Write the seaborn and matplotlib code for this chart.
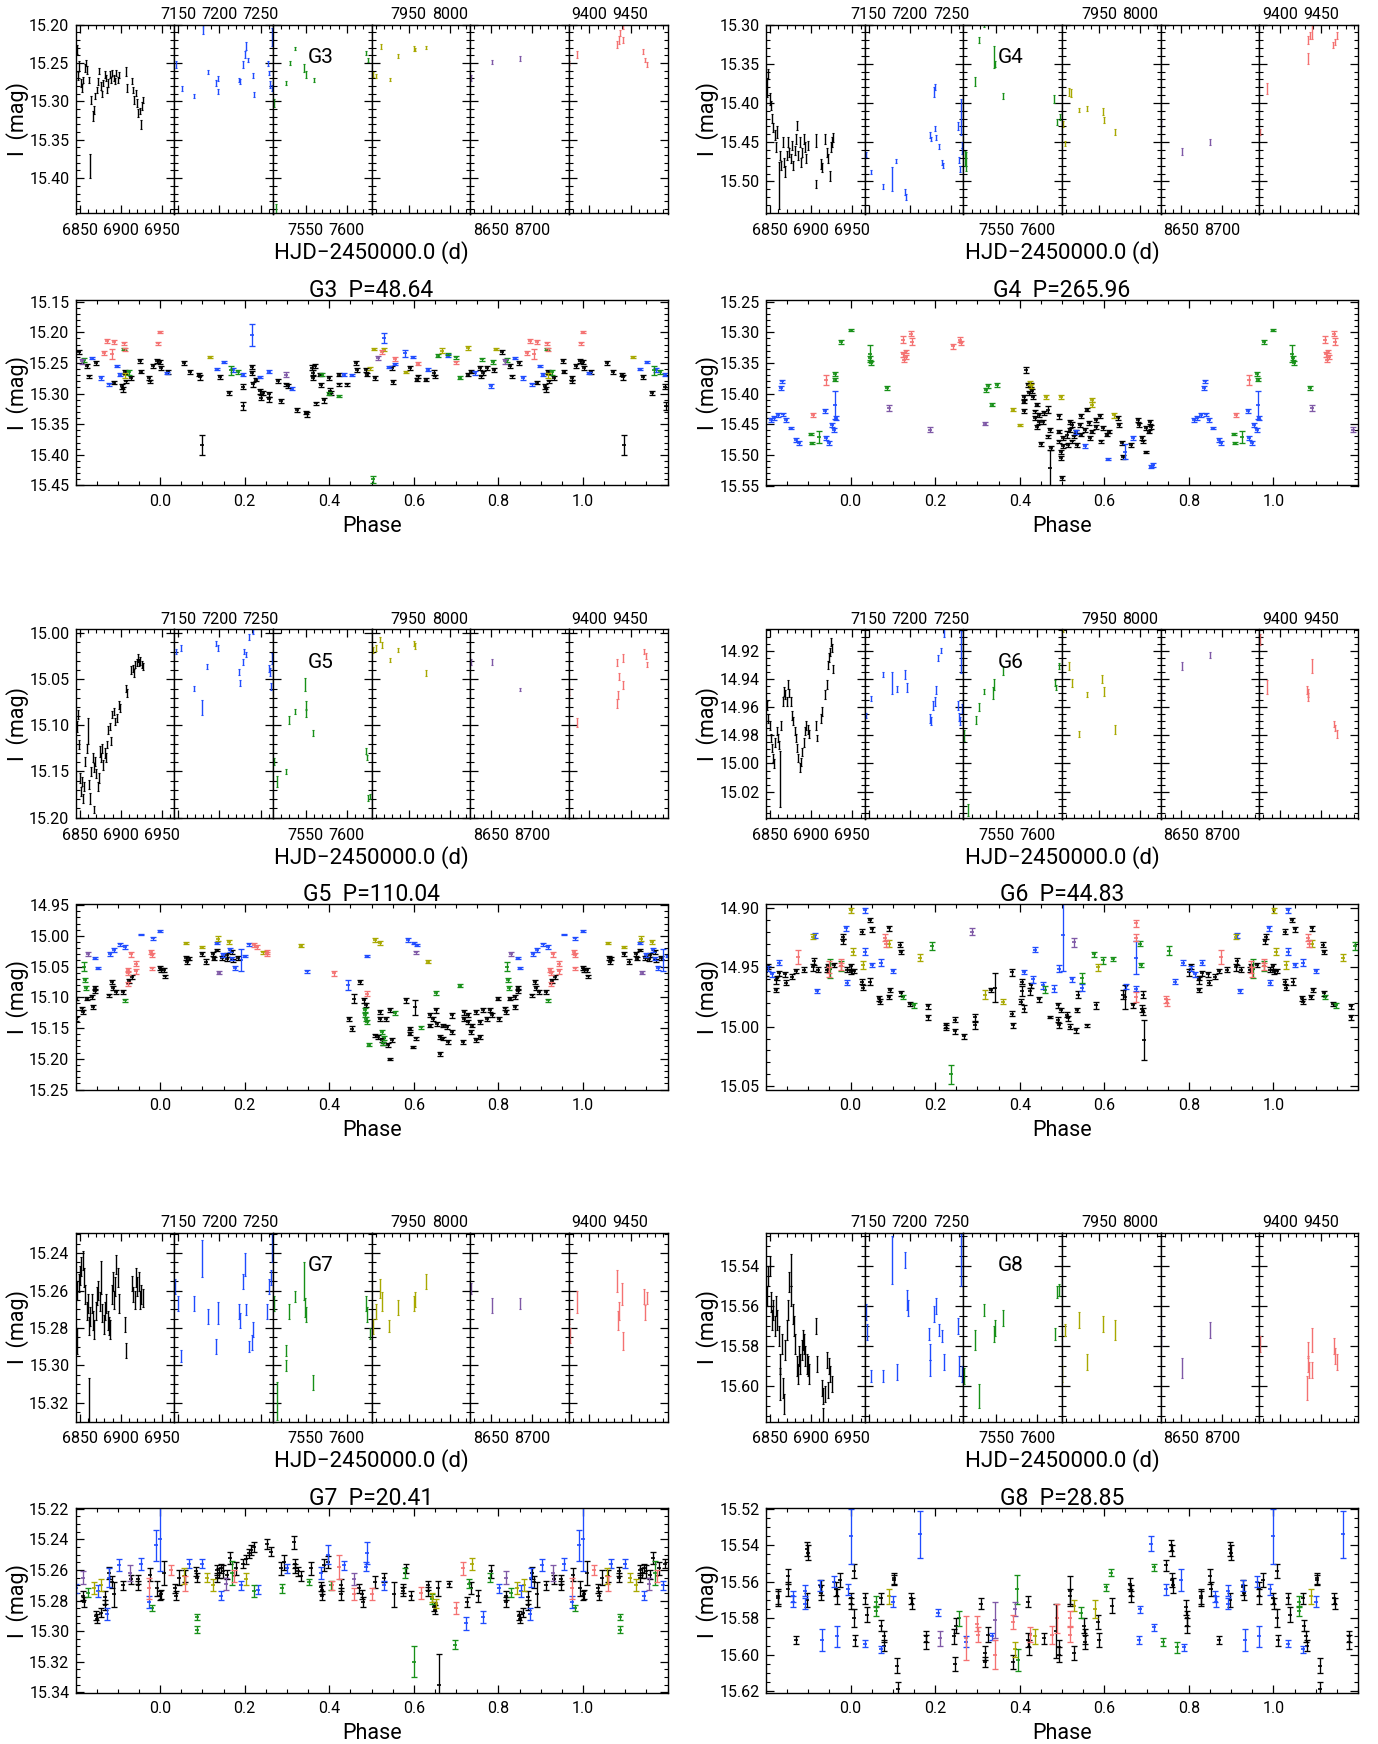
import matplotlib
matplotlib.use("Agg")
import matplotlib.pyplot as plt
from matplotlib.ticker import MultipleLocator, FixedLocator, FormatStrFormatter
import numpy as np
import pandas as pd
import seaborn as sns

# ---------------------------------------------------------------------------
# Light-curve points: (HJD-2450000, I mag, error) per observing season colour
# Phase-folded points: (phase in [0,1), I mag, error)
# ---------------------------------------------------------------------------
G3_LC_BLACK = [(6846.6,15.233,.006),(6847.7,15.267,.005),(6849.3,15.254,.006),(6851.4,15.276,.005),(6853.0,15.283,.005),(6854.6,15.272,.004),(6856.2,15.257,.005),(6857.8,15.250,.004),(6859.4,15.259,.005),(6861.0,15.272,.004),(6862.1,15.384,.016),(6863.7,15.298,.005),(6865.8,15.319,.006),(6867.4,15.311,.005),(6869.0,15.293,.004),(6870.6,15.285,.004),(6872.2,15.274,.005),(6873.8,15.261,.004),(6875.4,15.280,.005),(6877.0,15.291,.004),(6878.6,15.276,.004),(6880.2,15.265,.005),(6881.8,15.270,.004),(6883.4,15.285,.004),(6885.0,15.276,.005),(6886.6,15.265,.004),(6888.2,15.272,.004),(6889.8,15.263,.004),(6891.4,15.270,.004),(6893.0,15.274,.004),(6894.6,15.263,.004),(6896.2,15.272,.004),(6897.8,15.266,.004),(6905.8,15.261,.006),(6907.4,15.283,.005),(6913.3,15.274,.004),(6914.9,15.285,.004),(6916.5,15.298,.005),(6918.1,15.289,.004),(6919.7,15.302,.005),(6921.3,15.315,.005),(6922.9,15.313,.004),(6924.0,15.330,.006),(6925.5,15.306,.005),(6927.1,15.298,.004)]
G3_LC_BLUE = [(7147.6,15.252,.005),(7153.9,15.283,.003),(7169.2,15.293,.003),(7180.3,15.207,.006),(7185.5,15.262,.003),(7196.1,15.276,.004),(7197.6,15.270,.003),(7198.7,15.287,.003),(7223.9,15.272,.003),(7225.5,15.274,.003),(7229.2,15.252,.004),(7230.8,15.239,.004),(7232.4,15.228,.005),(7234.5,15.246,.003),(7240.3,15.266,.003),(7241.8,15.291,.003),(7259.2,15.251,.003),(7260.8,15.263,.003),(7261.8,15.278,.004),(7263.4,15.216,.012),(7264.0,15.283,.004)]
G3_LC_GREEN = [(7511.0,15.302,.005),(7514.2,15.440,.006),(7525.9,15.276,.003),(7530.6,15.250,.003),(7537.0,15.231,.002),(7548.1,15.257,.005),(7549.7,15.265,.004),(7559.7,15.272,.003),(7623.2,15.237,.003),(7625.8,15.246,.003)]
G3_LC_YELLOW = [(7906.6,15.265,.003),(7910.8,15.267,.002),(7916.1,15.229,.003),(7927.1,15.272,.002),(7936.6,15.241,.002),(7956.1,15.231,.003),(7957.6,15.232,.002),(7970.8,15.230,.002)]
G3_LC_PURPLE = [(8625.5,15.270,.004),(8651.5,15.249,.003),(8685.8,15.244,.003)]
G3_LC_RED = [(9375.5,15.250,.003),(9385.0,15.239,.004),(9434.0,15.226,.004),(9435.5,15.220,.005),(9437.1,15.211,.004),(9440.3,15.220,.004),(9441.3,15.203,.003),(9465.5,15.235,.003),(9467.6,15.246,.003),(9469.7,15.252,.003)]

G3_PH_BLACK = [(0.000,15.248,.003),(0.002,15.258,.003),(0.018,15.265,.003),(0.057,15.250,.004),(0.070,15.265,.003),(0.093,15.269,.003),(0.095,15.273,.004),(0.098,15.384,.016),(0.142,15.273,.003),(0.163,15.299,.004),(0.195,15.289,.004),(0.197,15.320,.007),(0.216,15.257,.003),(0.218,15.266,.003),(0.220,15.285,.004),(0.226,15.277,.003),(0.237,15.296,.004),(0.238,15.307,.004),(0.244,15.299,.003),(0.257,15.301,.004),(0.258,15.309,.004),(0.278,15.279,.003),(0.286,15.312,.004),(0.298,15.285,.003),(0.303,15.288,.003),(0.324,15.327,.003),(0.345,15.331,.003),(0.347,15.334,.004),(0.360,15.258,.004),(0.361,15.266,.004),(0.362,15.274,.003),(0.365,15.255,.003),(0.368,15.316,.003),(0.379,15.269,.003),(0.380,15.286,.003),(0.388,15.311,.004),(0.400,15.274,.003),(0.401,15.295,.004),(0.404,15.299,.003),(0.422,15.269,.003),(0.424,15.285,.003),(0.442,15.285,.003),(0.463,15.250,.004),(0.465,15.261,.003),(0.487,15.261,.003),(0.489,15.269,.003),(0.509,15.274,.003),(0.548,15.258,.003),(0.550,15.281,.003),(0.590,15.258,.003),(0.607,15.277,.003),(0.609,15.272,.003),(0.628,15.277,.003),(0.648,15.266,.004),(0.650,15.272,.003),(0.728,15.269,.003),(0.736,15.264,.003),(0.756,15.258,.003),(0.758,15.272,.003),(0.764,15.266,.003),(0.772,15.258,.003),(0.790,15.261,.003),(0.808,15.232,.004),(0.828,15.255,.003),(0.831,15.272,.003),(0.849,15.250,.003),(0.890,15.282,.003),(0.910,15.288,.004),(0.912,15.293,.004),(0.916,15.265,.003),(0.920,15.280,.003),(0.931,15.274,.003),(0.952,15.247,.003),(0.954,15.264,.003),(0.973,15.274,.003),(0.975,15.280,.003),(0.983,15.255,.003),(0.993,15.247,.003)]
G3_PH_BLUE = [(0.015,15.266,.002),(0.134,15.260,.002),(0.151,15.248,.002),(0.173,15.262,.003),(0.195,15.269,.003),(0.216,15.205,.018),(0.235,15.273,.002),(0.257,15.264,.003),(0.311,15.292,.002),(0.434,15.269,.003),(0.453,15.270,.002),(0.530,15.209,.008),(0.540,15.257,.002),(0.556,15.252,.002),(0.579,15.234,.006),(0.597,15.240,.002),(0.633,15.261,.002),(0.681,15.238,.003),(0.745,15.266,.003),(0.782,15.288,.003),(0.838,15.242,.002),(0.859,15.274,.003),(0.880,15.285,.002),(0.898,15.255,.002),(0.905,15.269,.003)]
G3_PH_GREEN = [(0.167,15.262,.007),(0.183,15.265,.003),(0.383,15.269,.003),(0.400,15.300,.003),(0.422,15.304,.002),(0.504,15.440,.006),(0.658,15.238,.002),(0.681,15.235,.002),(0.700,15.241,.002),(0.708,15.274,.002),(0.761,15.244,.002),(0.787,15.248,.003),(0.820,15.245,.003),(0.914,15.227,.002),(0.926,15.265,.004)]
G3_PH_YELLOW = [(0.118,15.240,.002),(0.496,15.259,.002),(0.506,15.227,.002),(0.529,15.228,.002),(0.581,15.265,.002),(0.666,15.230,.004),(0.728,15.226,.003),(0.794,15.227,.002),(0.916,15.270,.004)]
G3_PH_PURPLE = [(0.298,15.269,.004),(0.514,15.242,.003),(0.816,15.247,.004)]
G3_PH_RED = [(0.000,15.199,.002),(0.525,15.232,.004),(0.556,15.244,.003),(0.610,15.251,.003),(0.700,15.249,.003),(0.867,15.234,.003),(0.874,15.214,.003),(0.885,15.235,.008),(0.890,15.216,.003),(0.914,15.218,.003),(0.916,15.228,.003),(0.996,15.218,.003)]

G4_LC_BLACK = [(6846.6,15.380,.012),(6847.7,15.363,.006),(6849.3,15.395,.008),(6850.9,15.403,.006),(6852.5,15.420,.006),(6854.1,15.431,.006),(6855.7,15.441,.006),(6857.3,15.456,.006),(6858.9,15.437,.008),(6860.5,15.505,.030),(6862.1,15.467,.006),(6863.7,15.480,.006),(6865.3,15.450,.006),(6866.9,15.476,.006),(6868.5,15.488,.007),(6870.1,15.467,.006),(6871.7,15.450,.006),(6873.3,15.463,.006),(6874.9,15.471,.006),(6876.5,15.454,.006),(6878.1,15.480,.006),(6879.7,15.461,.006),(6881.3,15.446,.006),(6882.9,15.429,.006),(6884.5,15.467,.006),(6886.1,15.450,.006),(6887.7,15.476,.006),(6889.3,15.463,.006),(6890.9,15.446,.006),(6892.5,15.456,.006),(6894.1,15.471,.006),(6895.7,15.454,.006),(6905.3,15.448,.008),(6906.3,15.503,.005),(6911.7,15.478,.006),(6913.3,15.482,.006),(6917.0,15.446,.006),(6919.2,15.463,.006),(6920.8,15.471,.006),(6922.4,15.493,.006),(6924.0,15.456,.006),(6925.6,15.450,.006),(6926.7,15.444,.006)]
G4_LC_BLUE = [(7146.6,15.466,.003),(7153.0,15.488,.003),(7167.9,15.507,.003),(7178.6,15.497,.015),(7183.4,15.474,.003),(7194.6,15.514,.004),(7195.7,15.520,.004),(7223.9,15.441,.004),(7226.1,15.446,.003),(7229.3,15.386,.006),(7230.3,15.433,.003),(7230.9,15.380,.004),(7231.4,15.444,.003),(7235.7,15.456,.003),(7239.4,15.476,.003),(7240.5,15.480,.003),(7259.1,15.429,.005),(7260.2,15.473,.004),(7260.7,15.484,.004),(7262.3,15.418,.023),(7263.4,15.454,.004),(7263.9,15.461,.004)]
G4_LC_GREEN = [(7511.6,15.471,.010),(7513.7,15.475,.012),(7524.4,15.373,.006),(7528.7,15.320,.004),(7535.1,15.300,.003),(7547.3,15.341,.014),(7548.5,15.350,.004),(7558.0,15.391,.004),(7620.4,15.395,.005),(7623.6,15.424,.004),(7627.3,15.418,.004)]
G4_LC_YELLOW = [(7906.6,15.427,.004),(7908.2,15.452,.003),(7913.0,15.386,.005),(7915.7,15.387,.005),(7925.3,15.409,.003),(7934.9,15.407,.003),(7954.6,15.411,.004),(7955.7,15.422,.004),(7969.0,15.437,.004)]
G4_LC_PURPLE = [(8625.2,15.427,.004),(8650.6,15.462,.005),(8684.7,15.450,.004)]
G4_LC_RED = [(9376.1,15.437,.004),(9384.6,15.382,.007),(9433.7,15.320,.005),(9434.7,15.343,.007),(9436.3,15.314,.004),(9439.0,15.309,.010),(9465.1,15.326,.004),(9467.3,15.322,.004),(9469.4,15.314,.004)]

G4_PH_BLACK = [(0.409,15.405,.003),(0.410,15.413,.003),(0.411,15.428,.003),(0.416,15.361,.005),(0.419,15.386,.003),(0.421,15.399,.003),(0.427,15.386,.003),(0.428,15.396,.003),(0.432,15.405,.003),(0.435,15.429,.003),(0.436,15.440,.003),(0.440,15.418,.003),(0.441,15.454,.003),(0.445,15.435,.003),(0.446,15.446,.003),(0.450,15.482,.003),(0.456,15.446,.003),(0.457,15.432,.003),(0.466,15.426,.006),(0.467,15.470,.003),(0.471,15.459,.003),(0.472,15.522,.030),(0.474,15.489,.003),(0.492,15.437,.004),(0.493,15.462,.003),(0.494,15.478,.003),(0.497,15.495,.003),(0.498,15.505,.003),(0.499,15.538,.003),(0.502,15.473,.003),(0.503,15.486,.003),(0.513,15.467,.006),(0.514,15.484,.003),(0.518,15.446,.003),(0.519,15.459,.003),(0.523,15.451,.004),(0.524,15.478,.003),(0.528,15.470,.003),(0.534,15.462,.003),(0.535,15.484,.003),(0.542,15.451,.003),(0.545,15.437,.003),(0.546,15.467,.003),(0.555,15.459,.003),(0.560,15.426,.003),(0.565,15.448,.003),(0.566,15.473,.003),(0.570,15.462,.003),(0.580,15.443,.003),(0.581,15.454,.003),(0.591,15.437,.003),(0.592,15.478,.003),(0.596,15.456,.003),(0.607,15.467,.003),(0.612,15.462,.003),(0.633,15.440,.003),(0.634,15.451,.003),(0.643,15.481,.003),(0.644,15.503,.003),(0.664,15.484,.003),(0.680,15.443,.003),(0.681,15.451,.003),(0.690,15.473,.003),(0.691,15.478,.003),(0.698,15.495,.002),(0.699,15.456,.003),(0.706,15.462,.003),(0.707,15.446,.003),(0.711,15.454,.003)]
G4_PH_BLUE = [(0.534,15.463,.003),(0.555,15.486,.003),(0.608,15.507,.002),(0.648,15.495,.012),(0.669,15.473,.003),(0.711,15.519,.003),(0.716,15.516,.003),(0.811,15.443,.003),(0.820,15.440,.003),(0.828,15.435,.003),(0.836,15.391,.003),(0.838,15.380,.003),(0.840,15.434,.003),(0.848,15.443,.003),(0.858,15.456,.002),(0.872,15.476,.003),(0.877,15.481,.003),(0.940,15.428,.003),(0.943,15.473,.003),(0.950,15.481,.003),(0.955,15.451,.003),(0.960,15.459,.003),(0.963,15.418,.023),(0.965,15.440,.003)]
G4_PH_GREEN = [(0.000,15.296,.002),(0.045,15.335,.014),(0.047,15.342,.003),(0.048,15.350,.003),(0.086,15.391,.003),(0.320,15.394,.003),(0.325,15.388,.003),(0.335,15.418,.002),(0.347,15.386,.003),(0.906,15.466,.002),(0.908,15.481,.002),(0.925,15.471,.010),(0.962,15.368,.003),(0.963,15.377,.003),(0.977,15.316,.003)]
G4_PH_YELLOW = [(0.383,15.426,.003),(0.401,15.451,.002),(0.425,15.383,.003),(0.427,15.388,.003),(0.461,15.406,.003),(0.498,15.405,.003),(0.570,15.410,.003),(0.572,15.418,.004),(0.622,15.435,.004)]
G4_PH_PURPLE = [(0.092,15.424,.005),(0.187,15.459,.004),(0.318,15.449,.003)]
G4_PH_RED = [(0.123,15.312,.006),(0.125,15.336,.004),(0.126,15.345,.004),(0.130,15.331,.003),(0.132,15.340,.003),(0.144,15.302,.004),(0.146,15.315,.005),(0.242,15.323,.004),(0.258,15.312,.004),(0.260,15.317,.003),(0.912,15.435,.003),(0.943,15.378,.008)]

G5_LC_BLACK = [(6846.1,15.101,.006),(6847.7,15.088,.005),(6849.3,15.121,.005),(6850.9,15.157,.005),(6851.9,15.172,.005),(6853.0,15.161,.005),(6854.1,15.179,.005),(6855.1,15.166,.005),(6856.7,15.139,.005),(6858.3,15.125,.005),(6859.9,15.106,.014),(6861.0,15.164,.005),(6862.1,15.179,.006),(6863.7,15.150,.005),(6865.8,15.135,.005),(6867.4,15.146,.005),(6867.9,15.191,.004),(6869.0,15.139,.005),(6870.1,15.152,.005),(6871.7,15.166,.005),(6873.3,15.157,.005),(6874.3,15.128,.006),(6875.9,15.135,.005),(6877.5,15.125,.005),(6878.6,15.143,.005),(6880.2,15.130,.005),(6881.8,15.135,.005),(6883.4,15.121,.004),(6885.0,15.105,.004),(6886.6,15.101,.004),(6888.2,15.117,.004),(6889.8,15.088,.004),(6891.4,15.085,.004),(6893.5,15.096,.004),(6895.7,15.092,.004),(6897.3,15.078,.004),(6898.9,15.081,.004),(6906.3,15.060,.004),(6907.9,15.065,.004),(6912.7,15.040,.004),(6914.3,15.038,.004),(6915.9,15.043,.004),(6917.5,15.034,.004),(6919.1,15.032,.004),(6920.7,15.027,.004),(6922.3,15.032,.004),(6923.9,15.030,.004),(6925.5,15.034,.004),(6927.1,15.036,.004)]
G5_LC_BLUE = [(7147.6,15.020,.003),(7153.4,15.016,.003),(7168.7,15.060,.003),(7179.2,15.081,.008),(7185.0,15.036,.003),(7196.1,15.011,.003),(7197.6,15.016,.003),(7223.4,15.042,.003),(7224.5,15.054,.003),(7228.2,15.031,.003),(7230.3,15.020,.003),(7232.4,15.023,.003),(7236.1,15.004,.003),(7241.3,14.998,.003),(7259.7,15.038,.004),(7261.3,15.042,.004),(7262.9,15.058,.004),(7263.4,15.027,.006)]
G5_LC_GREEN = [(7511.1,15.139,.004),(7515.3,15.161,.006),(7525.9,15.150,.003),(7530.1,15.094,.004),(7536.5,15.085,.003),(7548.6,15.056,.007),(7549.7,15.078,.004),(7550.2,15.087,.004),(7558.7,15.108,.003),(7622.7,15.128,.003),(7623.8,15.135,.003),(7625.9,15.179,.003),(7628.0,15.177,.003)]
G5_LC_YELLOW = [(7906.6,15.018,.003),(7910.8,15.016,.003),(7915.5,15.007,.003),(7918.2,15.013,.003),(7927.1,15.029,.002),(7936.6,15.018,.002),(7956.1,15.011,.003),(7957.6,15.014,.003),(7970.8,15.043,.003)]
G5_LC_PURPLE = [(8625.5,15.031,.003),(8651.5,15.031,.003),(8685.8,15.061,.002)]
G5_LC_RED = [(9375.5,15.063,.004),(9385.0,15.097,.005),(9433.4,15.032,.004),(9433.9,15.076,.005),(9434.5,15.067,.004),(9435.5,15.047,.004),(9440.3,15.027,.004),(9440.8,15.056,.004),(9466.6,15.020,.003),(9468.7,15.025,.003),(9470.3,15.034,.003)]

G5_PH_BLACK = [(0.000,15.052,.003),(0.002,15.056,.003),(0.010,15.056,.003),(0.012,15.066,.003),(0.062,15.036,.003),(0.064,15.043,.003),(0.067,15.037,.003),(0.098,15.030,.003),(0.108,15.042,.004),(0.126,15.030,.003),(0.128,15.037,.003),(0.134,15.023,.002),(0.147,15.036,.003),(0.157,15.038,.003),(0.158,15.031,.003),(0.170,15.026,.003),(0.172,15.040,.003),(0.185,15.036,.003),(0.447,15.135,.003),(0.453,15.151,.004),(0.458,15.102,.008),(0.473,15.075,.003),(0.481,15.105,.004),(0.487,15.113,.003),(0.509,15.162,.003),(0.514,15.165,.003),(0.519,15.124,.003),(0.520,15.135,.003),(0.525,15.170,.003),(0.526,15.175,.003),(0.533,15.135,.003),(0.538,15.178,.003),(0.543,15.121,.003),(0.544,15.200,.002),(0.548,15.170,.003),(0.581,15.105,.004),(0.590,15.151,.003),(0.591,15.159,.003),(0.597,15.181,.002),(0.602,15.116,.012),(0.604,15.167,.003),(0.638,15.129,.003),(0.639,15.146,.003),(0.646,15.135,.003),(0.653,15.121,.004),(0.654,15.143,.003),(0.661,15.165,.003),(0.662,15.192,.003),(0.669,15.146,.003),(0.670,15.167,.003),(0.679,15.148,.003),(0.680,15.173,.003),(0.689,15.156,.003),(0.690,15.129,.004),(0.715,15.173,.003),(0.718,15.124,.004),(0.719,15.135,.003),(0.727,15.129,.003),(0.728,15.140,.003),(0.736,15.156,.003),(0.737,15.146,.003),(0.746,15.124,.003),(0.747,15.170,.003),(0.756,15.165,.003),(0.757,15.140,.003),(0.764,15.121,.003),(0.772,15.135,.003),(0.779,15.121,.003),(0.785,15.129,.003),(0.800,15.102,.003),(0.802,15.135,.003),(0.816,15.118,.003),(0.817,15.124,.003),(0.828,15.102,.003),(0.839,15.099,.003),(0.840,15.116,.003),(0.846,15.085,.003),(0.847,15.090,.003),(0.880,15.097,.003),(0.887,15.075,.003),(0.888,15.085,.003),(0.895,15.091,.003),(0.913,15.091,.003),(0.926,15.074,.003),(0.933,15.067,.003)]
G5_PH_BLUE = [(0.000,14.992,.002),(0.134,15.012,.002),(0.149,15.031,.003),(0.165,15.023,.003),(0.170,15.037,.003),(0.178,15.052,.003),(0.190,15.039,.018),(0.200,15.033,.002),(0.211,15.014,.002),(0.347,15.058,.002),(0.445,15.080,.008),(0.489,15.033,.002),(0.586,15.007,.003),(0.600,15.012,.002),(0.607,15.015,.002),(0.846,15.036,.002),(0.852,15.052,.002),(0.882,15.029,.003),(0.890,15.023,.003),(0.905,15.014,.002),(0.916,15.018,.003),(0.954,14.998,.001),(0.982,15.004,.002)]
G5_PH_GREEN = [(0.484,15.121,.003),(0.485,15.129,.003),(0.486,15.135,.003),(0.489,15.140,.003),(0.494,15.177,.002),(0.525,15.156,.003),(0.526,15.175,.003),(0.530,15.166,.003),(0.556,15.126,.003),(0.617,15.149,.002),(0.653,15.093,.003),(0.710,15.081,.002),(0.820,15.050,.008),(0.822,15.072,.003),(0.825,15.085,.003),(0.918,15.105,.003)]
G5_PH_YELLOW = [(0.060,15.012,.002),(0.098,15.018,.002),(0.136,15.005,.004),(0.163,15.010,.003),(0.244,15.027,.002),(0.334,15.016,.002),(0.507,15.007,.003),(0.519,15.012,.003),(0.633,15.042,.002)]
G5_PH_PURPLE = [(0.139,15.060,.002),(0.604,15.027,.003),(0.830,15.029,.003)]
G5_PH_RED = [(0.221,15.015,.003),(0.229,15.018,.003),(0.252,15.026,.003),(0.253,15.030,.003),(0.410,15.061,.004),(0.489,15.094,.004),(0.923,15.056,.003),(0.924,15.061,.003),(0.925,15.078,.003),(0.930,15.030,.004),(0.943,15.045,.004),(0.944,15.058,.004),(0.979,15.026,.003),(0.980,15.031,.003),(0.981,15.053,.003)]

G6_LC_BLACK = [(6846.1,14.959,.003),(6847.7,14.968,.003),(6849.3,14.973,.003),(6850.9,14.982,.003),(6851.9,14.989,.003),(6853.5,14.996,.003),(6854.6,15.000,.003),(6856.2,14.985,.003),(6857.8,14.977,.003),(6859.4,14.982,.003),(6861.0,14.987,.003),(6862.1,15.011,.020),(6863.7,14.973,.003),(6865.3,14.956,.003),(6866.9,14.949,.003),(6868.5,14.951,.003),(6870.1,14.956,.003),(6871.7,14.944,.003),(6873.3,14.950,.003),(6874.9,14.956,.003),(6876.5,14.966,.003),(6878.1,14.970,.003),(6879.7,14.977,.003),(6881.3,14.982,.003),(6882.9,14.989,.003),(6884.5,14.996,.003),(6886.1,15.003,.003),(6887.7,14.999,.003),(6889.3,14.992,.003),(6890.9,14.985,.003),(6892.5,14.977,.003),(6894.1,14.973,.003),(6895.7,14.976,.003),(6897.3,14.979,.003),(6905.3,14.973,.003),(6906.9,14.982,.002),(6911.7,14.968,.003),(6913.3,14.963,.003),(6917.0,14.951,.003),(6918.6,14.944,.003),(6920.2,14.930,.003),(6921.8,14.925,.003),(6923.4,14.921,.003),(6924.5,14.914,.003),(6925.5,14.918,.003),(6926.6,14.933,.003)]
G6_LC_BLUE = [(7147.1,14.966,.002),(7153.0,14.954,.002),(7167.9,14.937,.002),(7178.6,14.943,.008),(7183.9,14.947,.002),(7194.6,14.937,.003),(7196.7,14.946,.003),(7223.9,14.968,.003),(7225.5,14.970,.003),(7228.7,14.959,.003),(7230.3,14.956,.003),(7231.9,14.948,.003),(7234.6,14.925,.002),(7238.3,14.920,.002),(7241.0,14.907,.003),(7258.1,14.959,.003),(7259.7,14.967,.003),(7261.3,14.970,.003),(7262.3,14.921,.015),(7263.4,14.961,.003)]
G6_LC_GREEN = [(7511.1,14.980,.004),(7515.3,15.033,.004),(7524.9,14.969,.003),(7528.7,14.960,.003),(7535.1,14.949,.002),(7546.3,14.950,.004),(7547.9,14.944,.004),(7558.0,14.934,.003),(7620.9,14.943,.002),(7622.5,14.946,.002),(7626.8,14.931,.002)]
G6_LC_YELLOW = [(7906.6,14.905,.002),(7913.0,14.931,.003),(7916.7,14.943,.003),(7925.3,14.979,.002),(7935.4,14.951,.002),(7954.1,14.940,.003),(7955.7,14.949,.003),(7969.0,14.976,.003)]
G6_LC_PURPLE = [(8625.0,14.950,.004),(8650.6,14.931,.003),(8684.7,14.923,.002)]
G6_LC_RED = [(9376.1,14.912,.004),(9384.6,14.946,.005),(9432.6,14.948,.003),(9433.7,14.953,.003),(9434.7,14.950,.003),(9439.0,14.931,.005),(9465.7,14.972,.002),(9467.3,14.975,.002),(9469.4,14.979,.003)]

G6_PH_BLACK = [(0.000,14.949,.002),(0.002,14.954,.002),(0.008,14.953,.002),(0.027,14.920,.002),(0.028,14.962,.002),(0.029,14.967,.002),(0.045,14.910,.002),(0.046,14.962,.003),(0.050,14.918,.002),(0.068,14.976,.002),(0.069,14.979,.002),(0.090,14.975,.002),(0.092,14.917,.002),(0.093,14.969,.002),(0.118,14.931,.002),(0.119,14.937,.002),(0.120,14.972,.002),(0.140,14.981,.002),(0.183,14.983,.002),(0.184,14.992,.002),(0.225,14.999,.002),(0.226,15.001,.002),(0.246,14.994,.002),(0.247,15.004,.002),(0.268,15.008,.002),(0.294,14.992,.003),(0.295,14.999,.003),(0.331,14.969,.002),(0.341,14.967,.012),(0.381,14.954,.003),(0.382,14.989,.002),(0.383,14.999,.002),(0.404,14.979,.002),(0.405,14.970,.004),(0.406,14.962,.002),(0.409,14.985,.003),(0.425,14.970,.003),(0.426,14.965,.002),(0.445,14.977,.002),(0.471,14.992,.001),(0.490,14.982,.002),(0.491,14.994,.002),(0.492,14.999,.002),(0.497,14.986,.002),(0.513,14.990,.002),(0.514,14.993,.002),(0.518,15.000,.002),(0.534,15.003,.002),(0.535,14.986,.002),(0.539,14.973,.003),(0.558,14.999,.001),(0.581,14.982,.003),(0.645,14.973,.004),(0.648,14.975,.010),(0.669,14.982,.002),(0.690,14.985,.003),(0.691,14.987,.003),(0.692,14.973,.003),(0.695,15.011,.017),(0.800,14.954,.003),(0.804,14.949,.002),(0.823,14.961,.003),(0.824,14.969,.002),(0.825,14.959,.002),(0.830,14.955,.002),(0.846,14.956,.002),(0.847,14.963,.002),(0.862,14.958,.002),(0.872,14.953,.002),(0.891,14.952,.002),(0.912,14.950,.003),(0.913,14.945,.003),(0.924,14.952,.002),(0.945,14.952,.002),(0.946,14.949,.002),(0.960,14.948,.002),(0.981,14.928,.002),(0.982,14.924,.002),(0.992,14.952,.002)]
G6_PH_BLUE = [(0.034,14.902,.002),(0.035,14.937,.003),(0.050,14.948,.002),(0.071,14.946,.003),(0.100,14.953,.002),(0.411,14.954,.002),(0.432,14.960,.003),(0.435,14.935,.002),(0.456,14.965,.003),(0.480,14.968,.003),(0.492,14.951,.003),(0.503,14.923,.030),(0.523,14.960,.002),(0.547,14.967,.003),(0.651,14.966,.002),(0.674,14.968,.002),(0.676,14.942,.014),(0.768,14.962,.002),(0.787,14.946,.002),(0.805,14.951,.002),(0.815,14.956,.002),(0.830,14.946,.002),(0.915,14.923,.002),(0.920,14.970,.002),(0.990,14.917,.002),(0.991,14.963,.002)]
G6_PH_GREEN = [(0.123,14.975,.002),(0.149,14.982,.002),(0.192,14.932,.003),(0.237,15.040,.008),(0.459,14.969,.003),(0.547,14.959,.004),(0.575,14.939,.002),(0.596,14.944,.003),(0.620,14.943,.002),(0.685,14.930,.002),(0.686,14.948,.002),(0.752,14.936,.004),(0.951,14.951,.008),(0.977,14.949,.004)]
G6_PH_YELLOW = [(0.001,14.902,.002),(0.006,14.937,.003),(0.030,14.948,.003),(0.092,14.930,.003),(0.164,14.942,.003),(0.318,14.973,.004),(0.360,14.979,.002),(0.584,14.950,.003),(0.912,14.924,.002)]
G6_PH_PURPLE = [(0.287,14.920,.003),(0.529,14.929,.004)]
G6_PH_RED = [(0.081,14.925,.003),(0.083,14.930,.003),(0.674,14.913,.003),(0.675,14.925,.003),(0.676,14.975,.004),(0.747,14.977,.003),(0.748,14.980,.003),(0.875,14.941,.006),(0.948,14.950,.005),(0.949,14.954,.004),(0.977,14.946,.003),(0.978,14.949,.003)]

G7_LC_BLACK = [(6846.1,15.287,.007),(6847.1,15.260,.005),(6848.7,15.256,.005),(6850.3,15.252,.005),(6851.9,15.247,.005),(6853.5,15.244,.005),(6855.1,15.253,.005),(6856.7,15.262,.005),(6858.3,15.271,.005),(6859.9,15.267,.005),(6861.0,15.279,.005),(6861.5,15.322,.015),(6863.1,15.274,.005),(6864.7,15.267,.005),(6866.3,15.276,.005),(6867.9,15.281,.005),(6869.5,15.271,.005),(6871.1,15.263,.005),(6872.7,15.260,.005),(6874.3,15.266,.005),(6875.9,15.253,.009),(6877.5,15.272,.005),(6879.1,15.278,.005),(6880.7,15.271,.005),(6882.3,15.267,.005),(6883.9,15.276,.005),(6885.5,15.279,.005),(6887.1,15.281,.005),(6888.7,15.262,.005),(6890.3,15.255,.005),(6891.9,15.265,.005),(6893.5,15.258,.005),(6894.6,15.246,.005),(6896.2,15.253,.005),(6897.8,15.267,.005),(6905.3,15.278,.004),(6906.9,15.292,.004),(6913.3,15.256,.004),(6914.9,15.262,.004),(6917.0,15.265,.005),(6918.6,15.253,.005),(6920.2,15.258,.005),(6921.8,15.255,.005),(6923.4,15.265,.005),(6925.0,15.262,.005),(6926.6,15.264,.005)]
G7_LC_BLUE = [(7146.0,15.258,.004),(7149.2,15.267,.004),(7153.4,15.295,.003),(7168.7,15.267,.004),(7179.2,15.243,.010),(7185.5,15.274,.004),(7196.1,15.290,.004),(7197.6,15.272,.006),(7223.9,15.271,.004),(7225.5,15.276,.004),(7229.2,15.255,.004),(7230.8,15.246,.006),(7232.4,15.270,.003),(7236.1,15.290,.003),(7239.7,15.288,.004),(7241.3,15.281,.004),(7258.2,15.271,.004),(7260.8,15.258,.004),(7262.4,15.253,.004),(7263.4,15.235,.010)]
G7_LC_GREEN = [(7511.1,15.267,.004),(7515.3,15.319,.010),(7525.3,15.292,.003),(7525.8,15.300,.003),(7529.6,15.271,.004),(7536.5,15.263,.003),(7548.1,15.255,.010),(7549.2,15.269,.005),(7549.7,15.273,.004),(7558.7,15.309,.004),(7623.2,15.267,.004),(7624.8,15.273,.004),(7627.5,15.283,.003)]
G7_LC_YELLOW = [(7906.6,15.279,.004),(7910.8,15.271,.004),(7915.0,15.259,.005),(7917.1,15.266,.005),(7926.6,15.279,.003),(7936.6,15.269,.004),(7956.6,15.267,.004),(7957.6,15.265,.004),(7970.8,15.255,.004)]
G7_LC_PURPLE = [(8625.5,15.259,.003),(8651.5,15.268,.004),(8685.8,15.267,.003)]
G7_LC_RED = [(9375.5,15.274,.004),(9376.0,15.284,.004),(9385.0,15.266,.006),(9433.4,15.255,.006),(9434.5,15.276,.005),(9435.5,15.271,.005),(9439.7,15.262,.006),(9440.3,15.287,.005),(9466.6,15.263,.004),(9467.6,15.272,.004),(9469.7,15.264,.003)]

G7_PH_BLACK = [(0.000,15.277,.003),(0.002,15.276,.003),(0.010,15.262,.008),(0.036,15.272,.003),(0.038,15.277,.003),(0.044,15.265,.005),(0.059,15.264,.004),(0.085,15.261,.003),(0.086,15.265,.003),(0.134,15.260,.003),(0.135,15.265,.003),(0.139,15.262,.003),(0.144,15.259,.003),(0.149,15.261,.004),(0.159,15.263,.003),(0.165,15.252,.004),(0.180,15.259,.004),(0.195,15.256,.003),(0.203,15.253,.003),(0.209,15.249,.003),(0.214,15.247,.003),(0.221,15.245,.003),(0.252,15.243,.003),(0.262,15.248,.003),(0.285,15.259,.004),(0.293,15.255,.005),(0.317,15.242,.004),(0.318,15.256,.003),(0.319,15.259,.003),(0.327,15.261,.003),(0.334,15.264,.003),(0.357,15.259,.004),(0.381,15.271,.003),(0.382,15.273,.003),(0.383,15.277,.003),(0.388,15.257,.004),(0.398,15.255,.004),(0.427,15.270,.004),(0.428,15.276,.004),(0.470,15.272,.003),(0.478,15.276,.003),(0.479,15.281,.003),(0.507,15.268,.004),(0.530,15.265,.003),(0.552,15.276,.008),(0.574,15.272,.003),(0.575,15.274,.003),(0.581,15.259,.003),(0.594,15.277,.003),(0.633,15.274,.003),(0.634,15.270,.003),(0.648,15.284,.003),(0.649,15.286,.003),(0.658,15.272,.005),(0.660,15.335,.020),(0.682,15.269,.002),(0.725,15.281,.003),(0.736,15.272,.004),(0.751,15.277,.004),(0.782,15.261,.004),(0.818,15.277,.003),(0.819,15.281,.003),(0.849,15.290,.003),(0.850,15.292,.003),(0.859,15.288,.003),(0.869,15.283,.003),(0.870,15.278,.004),(0.880,15.262,.004),(0.885,15.268,.004),(0.890,15.276,.008),(0.913,15.270,.003),(0.931,15.266,.003),(0.947,15.270,.003),(0.948,15.266,.003),(0.977,15.263,.004),(0.993,15.272,.005)]
G7_PH_BLUE = [(0.067,15.256,.003),(0.100,15.256,.003),(0.144,15.277,.003),(0.190,15.270,.003),(0.231,15.273,.003),(0.301,15.259,.003),(0.381,15.262,.004),(0.396,15.250,.006),(0.434,15.257,.003),(0.487,15.258,.003),(0.490,15.249,.007),(0.530,15.270,.003),(0.723,15.295,.004),(0.763,15.291,.004),(0.802,15.272,.003),(0.854,15.274,.004),(0.874,15.289,.004),(0.878,15.265,.006),(0.902,15.257,.004),(0.954,15.256,.004),(0.974,15.281,.004),(0.990,15.244,.010),(0.999,15.240,.021)]
G7_PH_GREEN = [(0.087,15.291,.002),(0.088,15.299,.002),(0.170,15.262,.008),(0.221,15.274,.004),(0.288,15.272,.003),(0.353,15.268,.002),(0.404,15.270,.003),(0.578,15.262,.003),(0.600,15.320,.010),(0.643,15.279,.003),(0.698,15.309,.003),(0.730,15.269,.003),(0.780,15.265,.003),(0.830,15.275,.003),(0.980,15.285,.002)]
G7_PH_YELLOW = [(0.057,15.264,.005),(0.110,15.265,.003),(0.126,15.270,.004),(0.203,15.266,.004),(0.643,15.278,.003),(0.653,15.282,.003),(0.738,15.256,.004),(0.844,15.272,.004),(0.860,15.270,.004)]
G7_PH_PURPLE = [(0.156,15.269,.004),(0.458,15.266,.004),(0.818,15.265,.004),(0.928,15.262,.005)]
G7_PH_RED = [(0.026,15.260,.003),(0.059,15.269,.005),(0.175,15.264,.004),(0.406,15.270,.003),(0.422,15.258,.008),(0.458,15.276,.004),(0.501,15.276,.004),(0.617,15.275,.004),(0.700,15.285,.004),(0.717,15.259,.004),(0.974,15.272,.007)]

G8_LC_BLACK = [(6846.1,15.555,.005),(6847.7,15.545,.005),(6849.3,15.540,.005),(6850.9,15.558,.005),(6852.5,15.567,.005),(6854.1,15.562,.005),(6855.7,15.570,.005),(6857.3,15.560,.005),(6858.9,15.567,.005),(6860.5,15.575,.005),(6861.5,15.589,.005),(6862.6,15.599,.008),(6864.2,15.579,.005),(6865.8,15.601,.005),(6866.9,15.609,.005),(6868.5,15.582,.005),(6870.1,15.572,.005),(6871.7,15.562,.005),(6873.3,15.548,.005),(6874.9,15.542,.008),(6875.9,15.555,.005),(6877.5,15.564,.005),(6879.1,15.570,.005),(6880.7,15.579,.005),(6882.3,15.590,.005),(6883.4,15.594,.005),(6885.0,15.585,.005),(6886.6,15.589,.005),(6888.2,15.582,.005),(6889.8,15.577,.005),(6891.4,15.579,.005),(6893.0,15.585,.005),(6894.6,15.589,.005),(6896.2,15.590,.005),(6897.8,15.594,.005),(6905.3,15.570,.004),(6906.9,15.589,.004),(6913.3,15.601,.004),(6913.8,15.615,.004),(6914.9,15.605,.004),(6917.0,15.604,.004),(6918.6,15.587,.004),(6920.2,15.602,.004),(6921.8,15.590,.004),(6923.4,15.594,.004),(6925.0,15.599,.004)]
G8_LC_BLUE = [(7146.1,15.563,.004),(7147.7,15.573,.004),(7153.0,15.595,.003),(7167.9,15.595,.003),(7178.6,15.537,.012),(7183.9,15.593,.004),(7194.6,15.537,.004),(7196.7,15.557,.005),(7197.8,15.561,.004),(7223.4,15.574,.003),(7223.9,15.591,.004),(7225.0,15.583,.004),(7229.3,15.564,.004),(7231.4,15.560,.004),(7235.7,15.572,.003),(7239.4,15.575,.003),(7241.0,15.588,.004),(7258.1,15.570,.004),(7259.7,15.590,.005),(7262.3,15.537,.013),(7263.4,15.594,.004)]
G8_LC_GREEN = [(7511.1,15.595,.004),(7524.4,15.577,.005),(7528.7,15.605,.006),(7535.1,15.562,.003),(7547.3,15.574,.004),(7548.4,15.571,.004),(7558.0,15.566,.004),(7620.9,15.574,.003),(7623.6,15.553,.003),(7626.3,15.552,.003)]
G8_LC_YELLOW = [(7905.4,15.594,.004),(7908.7,15.572,.003),(7925.3,15.567,.004),(7934.9,15.588,.004),(7954.6,15.569,.004),(7969.0,15.572,.005)]
G8_LC_PURPLE = [(8625.2,15.576,.004),(8650.6,15.591,.005),(8684.7,15.572,.004)]
G8_LC_RED = [(9376.1,15.579,.004),(9432.6,15.601,.006),(9433.7,15.582,.004),(9434.7,15.589,.004),(9435.3,15.592,.004),(9439.0,15.577,.006),(9439.5,15.592,.004),(9465.7,15.580,.004),(9467.3,15.585,.004),(9469.4,15.588,.004)]

G8_PH_BLACK = [(0.000,15.569,.003),(0.001,15.572,.003),(0.008,15.580,.005),(0.009,15.554,.004),(0.010,15.592,.003),(0.034,15.569,.003),(0.040,15.578,.004),(0.071,15.569,.003),(0.072,15.584,.003),(0.078,15.590,.003),(0.079,15.595,.003),(0.102,15.558,.003),(0.103,15.559,.003),(0.110,15.606,.004),(0.111,15.619,.004),(0.144,15.569,.003),(0.145,15.572,.003),(0.178,15.590,.003),(0.179,15.593,.004),(0.245,15.590,.004),(0.246,15.605,.004),(0.250,15.584,.004),(0.308,15.572,.003),(0.317,15.604,.003),(0.318,15.599,.004),(0.324,15.589,.004),(0.385,15.604,.004),(0.419,15.571,.003),(0.420,15.592,.004),(0.421,15.596,.004),(0.458,15.591,.003),(0.485,15.587,.015),(0.492,15.596,.004),(0.493,15.600,.004),(0.518,15.568,.004),(0.519,15.565,.008),(0.528,15.599,.004),(0.553,15.584,.004),(0.554,15.590,.004),(0.555,15.593,.004),(0.586,15.582,.004),(0.587,15.592,.004),(0.619,15.573,.004),(0.661,15.561,.003),(0.662,15.565,.003),(0.663,15.568,.003),(0.747,15.551,.003),(0.758,15.540,.003),(0.759,15.543,.003),(0.761,15.559,.004),(0.762,15.562,.004),(0.794,15.574,.004),(0.795,15.580,.004),(0.796,15.584,.004),(0.828,15.568,.004),(0.829,15.569,.004),(0.851,15.557,.004),(0.852,15.564,.004),(0.872,15.592,.002),(0.897,15.570,.004),(0.898,15.542,.004),(0.899,15.544,.004),(0.929,15.563,.004),(0.930,15.566,.004),(0.966,15.564,.004),(0.967,15.568,.004),(0.976,15.559,.004)]
G8_PH_BLUE = [(0.000,15.535,.015),(0.034,15.594,.002),(0.071,15.597,.002),(0.100,15.571,.003),(0.164,15.534,.013),(0.206,15.577,.002),(0.274,15.593,.003),(0.334,15.590,.002),(0.683,15.592,.002),(0.685,15.575,.002),(0.711,15.539,.004),(0.718,15.585,.002),(0.747,15.564,.003),(0.781,15.559,.006),(0.789,15.596,.002),(0.863,15.568,.003),(0.864,15.571,.003),(0.892,15.565,.003),(0.893,15.572,.003),(0.927,15.562,.003),(0.933,15.592,.006),(0.960,15.560,.003),(0.967,15.590,.006),(0.993,15.564,.003)]
G8_PH_GREEN = [(0.060,15.571,.003),(0.061,15.576,.003),(0.256,15.580,.004),(0.393,15.564,.008),(0.395,15.603,.006),(0.544,15.577,.003),(0.604,15.563,.002),(0.617,15.555,.002),(0.718,15.552,.002),(0.739,15.593,.002),(0.773,15.596,.003)]
G8_PH_YELLOW = [(0.090,15.568,.004),(0.388,15.597,.004),(0.435,15.590,.004),(0.528,15.573,.003),(0.579,15.575,.005)]
G8_PH_PURPLE = [(0.211,15.591,.004),(0.341,15.581,.010),(0.388,15.575,.004)]
G8_PH_RED = [(0.274,15.591,.012),(0.300,15.583,.004),(0.301,15.589,.004),(0.341,15.600,.008),(0.383,15.582,.004),(0.425,15.589,.004),(0.476,15.589,.005),(0.489,15.580,.008),(0.518,15.580,.004),(0.519,15.589,.004)]

GROUPS = ["G3", "G4", "G5", "G6", "G7", "G8"]
PERIODS = [48.64, 265.96, 110.04, 44.83, 20.41, 28.85]
SEASONS = [(6845, 6965), (7145, 7265), (7510, 7630), (7905, 8025), (8625, 8745), (9375, 9495)]
LC_YRANGE = [(15.446, 15.200), (15.541, 15.300), (15.201, 14.996), (15.039, 14.905), (15.330, 15.229), (15.618, 15.523)]
PH_YRANGE = [(15.450, 15.148), (15.550, 15.248), (15.250, 14.949), (15.053, 14.897), (15.3405, 15.2195), (15.621, 15.5195)]
LC_YSTEP = [0.05, 0.05, 0.05, 0.02, 0.02, 0.02]
PH_YSTEP = [0.05, 0.05, 0.05, 0.05, 0.02, 0.02]
SERIES = ["black", "blue", "green", "yellow", "purple", "red"]
COLORS = {"black": "#000000", "blue": "#1f4cff", "green": "#179018",
          "yellow": "#a8a800", "purple": "#7e58a6", "red": "#f47272"}

# ---------------------------------------------------------------------------
# Tidy table of all points
# ---------------------------------------------------------------------------
records = []
for g in GROUPS:
    for kind in ("LC", "PH"):
        for s in SERIES:
            for x, m, e in globals()[f"{g}_{kind}_{s.upper()}"]:
                records.append((g, kind, s, x, m, e))
df = pd.DataFrame(records, columns=["group", "kind", "series", "x", "mag", "err"])

# phase points repeated over -0.2 .. 1.2
ph = df[df.kind == "PH"]
reps = []
for shift in (-1.0, 0.0, 1.0):
    r = ph.copy()
    r["x"] = r["x"] + shift
    reps.append(r)
phx = pd.concat(reps, ignore_index=True)
phx = phx[(phx.x >= -0.2) & (phx.x <= 1.2)]

# ---------------------------------------------------------------------------
# Style
# ---------------------------------------------------------------------------
sns.set_theme(style="ticks", rc={
    "axes.edgecolor": "black", "axes.linewidth": 1.0,
    "xtick.color": "black", "ytick.color": "black",
    "text.color": "black", "axes.labelcolor": "black",
})
plt.rcParams["font.family"] = ["Roboto", "DejaVu Sans"]
plt.rcParams["font.weight"] = "normal"
TICK_SIZE = 11.5
LABEL_SIZE = 15.5

FIG_W, FIG_H = 1378, 1744
fig = plt.figure(figsize=(FIG_W / 100, FIG_H / 100), dpi=100)
fig.patch.set_facecolor("white")

COL_LEFT = [75.6, 766.0]
PANEL_W = 592.0
LC_TOP = [24.5, 629.5, 1232.5]
PH_TOP = [300.5, 904.5, 1508.0]
LC_H = 189.0
PH_H = 185.0


def rect(left, top, w, h):
    return [left / FIG_W, 1 - (top + h) / FIG_H, w / FIG_W, h / FIG_H]


def fxy(x, y):
    return x / FIG_W, 1 - y / FIG_H


def common_ticks(ax):
    ax.tick_params(axis="both", which="both", direction="in",
                   top=True, bottom=True, left=True, right=True, colors="black")
    ax.tick_params(which="major", length=6, width=0.9)
    ax.tick_params(which="minor", length=3, width=0.8)
    ax.tick_params(axis="both", labelsize=TICK_SIZE)
    for sp in ax.spines.values():
        sp.set_linewidth(1.0)
        sp.set_color("black")
    ax.set_facecolor("white")


def draw_light_curve(gi, left, top):
    g = GROUPS[gi]
    d = df[(df.group == g) & (df.kind == "LC")]
    pw = PANEL_W / len(SEASONS)
    for k, (t0, t1) in enumerate(SEASONS):
        ax = fig.add_axes(rect(left + k * pw, top, pw, LC_H))
        for s in SERIES:
            sd = d[d.series == s]
            if len(sd):
                ax.errorbar(sd.x, sd.mag, yerr=sd.err, fmt="none", ecolor=COLORS[s],
                            elinewidth=1.0, capsize=0.9, capthick=0.8)
        ax.set_xlim(t0, t1)
        ax.set_ylim(*LC_YRANGE[gi])
        ax.xaxis.set_major_locator(MultipleLocator(50))
        ax.xaxis.set_minor_locator(MultipleLocator(10))
        ax.yaxis.set_major_locator(MultipleLocator(LC_YSTEP[gi]))
        ax.yaxis.set_minor_locator(MultipleLocator(LC_YSTEP[gi] / (5 if LC_YSTEP[gi] == 0.05 else 4)))
        ax.yaxis.set_major_formatter(FormatStrFormatter("%.2f"))
        ax.xaxis.set_major_formatter(FormatStrFormatter("%d"))
        common_ticks(ax)
        top_lab = (k % 2 == 1)
        ax.tick_params(axis="x", labelbottom=not top_lab, labeltop=top_lab,
                       pad=(1.5 if top_lab else 6.5))
        ax.tick_params(axis="y", labelleft=(k == 0), labelright=False, pad=4.5)
        if k == 2:
            ax.text(0.48, 1 - 38.8 / LC_H, g, transform=ax.transAxes, ha="center",
                    va="baseline", fontsize=15)
    fig.text(*fxy(left + PANEL_W / 2, top + LC_H + 45), "HJD\u22122450000.0 (d)",
             ha="center", va="baseline", fontsize=16)
    fig.text(*fxy(left - 58, top + LC_H / 2), "I  (mag)", rotation=90,
             ha="center", va="center", fontsize=LABEL_SIZE)


def draw_phase(gi, left, top):
    g = GROUPS[gi]
    d = phx[phx.group == g]
    ax = fig.add_axes(rect(left, top, PANEL_W, PH_H))
    for s in SERIES:
        sd = d[d.series == s]
        if len(sd):
            ax.errorbar(sd.x, sd.mag, yerr=sd.err, fmt="none", ecolor=COLORS[s],
                        elinewidth=0.95, capsize=2.2, capthick=0.95)
            sns.scatterplot(x=sd.x.values, y=sd.mag.values, color=COLORS[s], marker="_",
                            s=10, linewidth=1.2, ax=ax, legend=False)
    ax.set_xlim(-0.2, 1.2)
    ax.set_ylim(*PH_YRANGE[gi])
    ax.set_xlabel("")
    ax.set_ylabel("")
    ax.xaxis.set_major_locator(FixedLocator(np.round(np.arange(0.0, 1.01, 0.2), 1)))
    ax.xaxis.set_minor_locator(MultipleLocator(0.05))
    ax.xaxis.set_major_formatter(FormatStrFormatter("%.1f"))
    ax.yaxis.set_major_locator(MultipleLocator(PH_YSTEP[gi]))
    ax.yaxis.set_minor_locator(MultipleLocator(PH_YSTEP[gi] / (5 if PH_YSTEP[gi] == 0.05 else 4)))
    ax.yaxis.set_major_formatter(FormatStrFormatter("%.2f"))
    common_ticks(ax)
    ax.tick_params(axis="x", labelbottom=True, labeltop=False, pad=6.0)
    ax.tick_params(axis="y", labelleft=True, labelright=False, pad=4.5)
    fig.text(*fxy(left + PANEL_W / 2, top - 3.5), f"{g}  P={PERIODS[gi]:.2f}",
             ha="center", va="baseline", fontsize=16.5)
    fig.text(*fxy(left + PANEL_W / 2, top + PH_H + 46), "Phase",
             ha="center", va="baseline", fontsize=LABEL_SIZE)
    fig.text(*fxy(left - 58, top + PH_H / 2), "I  (mag)", rotation=90,
             ha="center", va="center", fontsize=LABEL_SIZE)


for row in range(3):
    for col in range(2):
        gi = row * 2 + col
        draw_light_curve(gi, COL_LEFT[col], LC_TOP[row])
        draw_phase(gi, COL_LEFT[col], PH_TOP[row])

fig.savefig("out.png", dpi=100, facecolor="white")
